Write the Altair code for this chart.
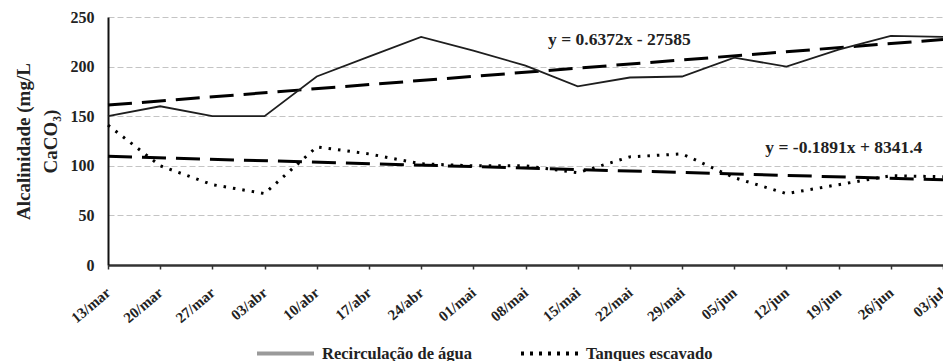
import altair as alt
import pandas as pd

dates = ["13/mar", "20/mar", "27/mar", "03/abr", "10/abr", "17/abr", "24/abr",
         "01/mai", "08/mai", "15/mai", "22/mai", "29/mai", "05/jun", "12/jun",
         "19/jun", "26/jun", "03/jul"]
recirculacao = [150, 160, 150, 150, 190, 210, 230, 216, 201, 180, 189, 190,
                209, 200, 217, 231, 230]
tanques = [141, 100, 81, 72, 119, 112, 102, 100, 100, 93, 109, 112, 88, 72,
           81, 90, 89]
series_names = ["Recirculação de água", "Tanques escavado"]
equations = ["y = 0.6372x - 27585", "y = -0.1891x + 8341.4"]
eq_idx = [9.8, 14.1]
eq_val = [227, 118]
y_ticks = [0, 50, 100, 150, 200, 250]

rows = []
for i, d in enumerate(dates):
    rows.append({"idx": i, "date": d, "value": recirculacao[i], "series": series_names[0]})
    rows.append({"idx": i, "date": d, "value": tanques[i], "series": series_names[1]})
df = pd.DataFrame(rows)
eq_df = pd.DataFrame({"idx": eq_idx, "value": eq_val, "text": equations})
legend_df = pd.DataFrame({"lg": series_names})

FONT = "Liberation Serif"
TXT = "#222222"
label_expr = "[" + ",".join("'" + d + "'" for d in dates) + "][datum.value]"

x_enc = alt.X("idx:Q",
              scale=alt.Scale(domain=[0, 16], nice=False, zero=False),
              axis=alt.Axis(values=list(range(len(dates))), labelExpr=label_expr,
                            title=None, grid=False, labelAngle=320,
                            labelAlign="right", labelBaseline="middle",
                            tickSize=4, labelPadding=21, tickColor="#333",
                            tickWidth=1.5, domainColor="#333", domainWidth=2.5,
                            labelFont=FONT, labelFontWeight="bold",
                            labelColor=TXT, labelFontSize=15))
y_enc = alt.Y("value:Q",
              scale=alt.Scale(domain=[0, 250], nice=False),
              axis=alt.Axis(values=y_ticks, title=["Alcalinidade (mg/L", "CaCO₃)"],
                            ticks=False, labelPadding=14, grid=True,
                            gridColor="#c4c4c4", gridDash=[6, 3], gridWidth=1,
                            domainColor="#111", domainWidth=2,
                            labelFont=FONT, labelFontWeight="bold",
                            labelColor=TXT, labelFontSize=16,
                            titleFont=FONT, titleFontWeight="bold",
                            titleColor=TXT, titleFontSize=19,
                            titleLineHeight=27, titlePadding=10))

base = alt.Chart(df)

recirc = base.transform_filter(alt.datum.series == series_names[0]).mark_line(
    color="#1e1e1e", strokeWidth=1.8).encode(x=x_enc, y=y_enc)
tanq = base.transform_filter(alt.datum.series == series_names[1]).mark_line(
    color="#000000", strokeWidth=3, strokeDash=[2.5, 7]).encode(x=x_enc, y=y_enc)

trend = base.transform_regression("idx", "value", groupby=["series"]).mark_line(
    color="#000000", strokeWidth=3, strokeDash=[24, 10]).encode(
    x=x_enc, y=y_enc, detail="series:N")

eq_text = alt.Chart(eq_df).mark_text(
    font=FONT, fontWeight="bold", fontSize=17.5, align="center",
    baseline="middle", color=TXT).encode(x=x_enc, y=y_enc, text="text:N")

leg_props = dict(orient="none", legendX=147, legendY=306, direction="horizontal",
                 title=None, symbolType="stroke", symbolSize=3249,
                 symbolStrokeWidth=4, labelFont=FONT, labelFontWeight="bold",
                 labelFontSize=16.5, labelColor=TXT, columnPadding=40,
                 labelOffset=6)
legend_layer = alt.Chart(legend_df).transform_filter("false").mark_line().encode(
    x=x_enc, y=y_enc,
    color=alt.Color("lg:N", scale=alt.Scale(domain=series_names, range=["#9a9a9a", "#000000"]),
                    legend=alt.Legend(**leg_props)),
    strokeDash=alt.StrokeDash("lg:N", scale=alt.Scale(domain=series_names, range=[[1, 0], [3, 6]]),
                              legend=alt.Legend(**leg_props)),
)

chart = alt.layer(trend, recirc, tanq, eq_text, legend_layer).properties(
    width=835, height=248,
    autosize=alt.AutoSizeParams(type="none"),
    padding={"left": 100, "top": 9, "right": 0, "bottom": 96},
    background="white",
).configure_view(stroke=None)

chart.save("out.html", embed_options={"renderer": "svg", "actions": False})
